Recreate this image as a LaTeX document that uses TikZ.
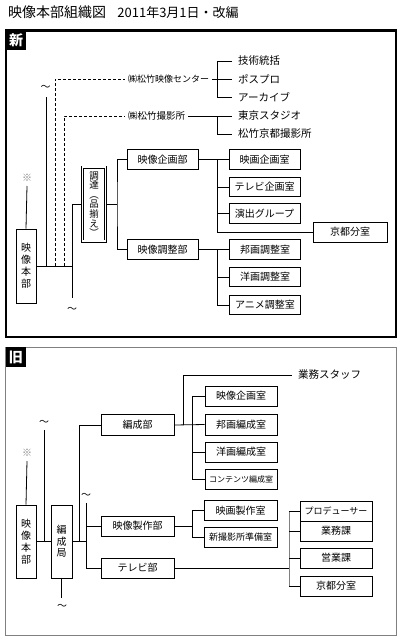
\documentclass[tikz,border=0pt]{standalone}
\usepackage{fontspec}
\setmainfont{Noto Sans CJK JP}
\begin{document}
\begin{tikzpicture}[x=1pt,y=-1pt,
  conn/.style={line width=0.8pt},
  dconn/.style={line width=0.8pt, dash pattern=on 3pt off 2pt},
  box/.style={draw, line width=0.8pt, inner sep=0pt, minimum width=71pt, minimum height=19.5pt, font=\fontsize{10}{12}\selectfont},
  vbox/.style={draw, line width=0.8pt, inner sep=0pt, align=center, font=\fontsize{10}{12}\selectfont},
  lbl/.style={inner sep=0pt, inner xsep=6pt, anchor=west, font=\fontsize{10.5}{12}\selectfont},
  ctr/.style={inner sep=0pt, inner xsep=3pt, anchor=west, font=\fontsize{9}{11}\selectfont},
  wave/.style={inner sep=0pt, font=\fontsize{10}{12}\selectfont},
  kome/.style={inner sep=0pt, text=gray, font=\fontsize{10}{10}\selectfont},
  tag/.style={fill=black, text=white, inner sep=0pt, minimum width=20pt, minimum height=20pt, font=\fontsize{14}{14}\selectfont\bfseries}
]
\useasboundingbox (0,0) rectangle (402,642);

% title
\node[anchor=west, inner sep=0pt, font=\fontsize{14}{15}\selectfont] (title) at (8,12.5) {映像本部組織図\hspace{0.8em}{\fontsize{13}{15}\selectfont 2011年3月1日・改編}};

% frames
\draw[line width=2.4pt] (6.2,30.5) rectangle (396,336.7);
\node[tag] (shin) at (16.2,40.5) {新};
\draw[line width=1pt, gray] (5.5,347) rectangle (396.7,635);
\node[tag] (kyu) at (16,357) {旧};

% ================= NEW =================
\node[lbl] (gijutsu) at (232,61) {技術統括};
\node[lbl] (posupuro) at (232,79) {ポスプロ};
\node[lbl] (akaibu) at (232,97) {アーカイブ};
\node[lbl] (tokyo) at (232,116) {東京スタジオ};
\node[lbl] (kyotosa) at (232,134) {松竹京都撮影所};
\node[ctr] (center) at (125,79) {㈱松竹映像センター};
\node[ctr, font=\fontsize{9.5}{11}\selectfont] (satsu) at (125,116) {㈱松竹撮影所};

\node[box] (kikakubu) at (162.5,159.5) {映像企画部};
\node[box] (eigakikaku) at (264.5,159.5) {映画企画室};
\node[box] (tvkikaku) at (264.5,187) {テレビ企画室};
\node[box] (enshutsu) at (264.5,213.5) {演出グループ};
\node[box, minimum width=74pt, minimum height=20pt] (kyoto1) at (350,232) {京都分室};
\node[box] (chouseibu) at (162.5,249.5) {映像調整部};
\node[box] (hougachousei) at (265,249.5) {邦画調整室};
\node[box] (yougachousei) at (265,277) {洋画調整室};
\node[box] (animechousei) at (265,305) {アニメ調整室};

\node[vbox, double, line width=0.7pt, double distance=1.6pt, outer sep=1.5pt, minimum width=23pt, minimum height=74pt, font=\fontsize{9.5}{9.6}\selectfont] (choutatsu) at (94,204) {調\\達\\︵\\品\\揃\\え\\︶};
\node[vbox, minimum width=20pt, minimum height=74pt] (honbu1) at (26,266) {映\\像\\本\\部};
\node[kome] (k1) at (27,178) {※};
\node[wave] (w1) at (45.5,88) {〜};
\node[wave] (w2) at (72,310) {〜};

\coordinate (jn) at (72,266);
\coordinate (s46) at (46,266);
\coordinate (t46) at (46,97);
\coordinate (d55) at (55,266);
\coordinate (d64) at (64,266);
\coordinate (b72) at (72,298);
\coordinate (c117) at (117,204);
\coordinate (k1b) at (27,186);

\draw[conn] (honbu1.east) -- (jn);
\draw[conn] (k1b) -- (honbu1.north);
\draw[conn] (t46) -- (s46);
\draw[dconn] (d55) |- (center.west);
\draw[dconn] (d64) |- (satsu.west);
\draw[conn] (choutatsu.west) -| (b72);
\draw[conn] (choutatsu.east) -- (c117);
\draw[conn] (kikakubu.west) -| (c117) |- (chouseibu.west);

\draw[conn] (center.east) -- (posupuro.west);
\draw[conn] (gijutsu.west) -- ++(-15,0) |- (akaibu.west);
\draw[conn] (satsu.east) -- (tokyo.west);
\draw[conn] (tokyo.west) ++(-15,0) |- (kyotosa.west);

\draw[conn] (kikakubu.east) -- (eigakikaku.west);
\draw[conn] (eigakikaku.west) ++(-11.5,0) |- (kyoto1.west);
\draw[conn] (tvkikaku.west) -- ++(-11.5,0);
\draw[conn] (enshutsu.west) -- ++(-11.5,0);
\draw[conn] (chouseibu.east) -- (hougachousei.west);
\draw[conn] (hougachousei.west) ++(-12,0) |- (animechousei.west);
\draw[conn] (yougachousei.west) -- ++(-12,0);

% ================= OLD =================
\node[lbl] (gyomustaff) at (292,375) {業務スタッフ};
\node[box, minimum width=73pt, minimum height=21pt] (hensei) at (137.5,425) {編成部};
\node[box, minimum width=72pt, minimum height=20pt] (eizoukikaku2) at (241,396) {映像企画室};
\node[box, minimum width=72pt, minimum height=21pt] (hougahensei) at (241,424.5) {邦画編成室};
\node[box, minimum width=72pt, minimum height=20pt] (yougahensei) at (241,452) {洋画編成室};
\node[box, minimum width=72pt, minimum height=20pt, font=\fontsize{8}{10}\selectfont] (contents) at (241,479) {コンテンツ編成室};

\node[vbox, minimum width=20pt, minimum height=73pt] (honbu2) at (26,541.5) {映\\像\\本\\部};
\node[vbox, minimum width=21pt, minimum height=73pt, font=\fontsize{10}{11.5}\selectfont] (henseikyoku) at (61.5,541.5) {編\\成\\局};
\node[kome] (k2) at (27,453) {※};
\node[wave] (w3) at (44,423) {〜};
\node[wave] (w4) at (86,496) {〜};
\node[wave] (w5) at (62,607) {〜};

\node[box, minimum width=73pt, minimum height=20pt] (seisakubu) at (137.5,526) {映像製作部};
\node[box, minimum width=73pt, minimum height=20pt] (tvbu) at (137.5,568) {テレビ部};
\node[box, minimum width=73pt, minimum height=19.5pt] (eigaseisaku) at (240.5,510.5) {映画製作室};
\node[box, minimum width=73pt, minimum height=19.5pt, font=\fontsize{9}{10}\selectfont] (shinsatsuei) at (240.5,537.5) {新撮影所準備室};
\node[box, minimum width=72pt, minimum height=20pt, font=\fontsize{9}{10}\selectfont] (producer) at (336,511) {プロデューサー};
\node[box, minimum width=72pt, minimum height=20pt] (gyomuka) at (336,531) {業務課};
\node[box, minimum width=72pt, minimum height=20pt] (eigyoka) at (336,558) {営業課};
\node[box, minimum width=72pt, minimum height=20pt] (kyoto2) at (336,586) {京都分室};

\coordinate (jo) at (86,541.5);
\coordinate (j79) at (79,541.5);
\coordinate (t44) at (44,430);
\coordinate (t86) at (86,503);
\coordinate (b62) at (61.5,598);
\coordinate (br3) at (183,425);
\coordinate (br5) at (193,526);
\coordinate (g1) at (289,511);
\coordinate (g2) at (289,586);
\coordinate (g3) at (289,568);
\coordinate (k2b) at (27,461);

\draw[conn] (honbu2.east) -- (henseikyoku.west);
\draw[conn] (henseikyoku.east) -- (jo);
\draw[conn] (t44) -- (t44 |- honbu2.east);
\draw[conn] (k2b) -- (honbu2.north);
\draw[conn] (henseikyoku.south) -- (b62);
\draw[conn] (hensei.west) -| (j79);
\draw[conn] (t86) |- (tvbu.west);
\draw[conn] (seisakubu.west) -- (seisakubu.west -| t86);

\draw[conn] (br3) |- (gyomustaff.west);
\draw[conn] (hensei.east) -- (hougahensei.west);
\draw[conn] (eizoukikaku2.west) -- ++(-12,0) |- (contents.west);
\draw[conn] (yougahensei.west) -- ++(-12,0);

\draw[conn] (seisakubu.east) -- (br5);
\draw[conn] (eigaseisaku.west) -- ++(-11.5,0) |- (shinsatsuei.west);

\draw[conn] (tvbu.east) -- (g3);
\draw[conn, gray] (g1) -- (g2);
\draw[conn] (g1) -- (producer.west);
\draw[conn] (gyomuka.west -| g1) -- (gyomuka.west);
\draw[conn] (eigyoka.west -| g1) -- (eigyoka.west);
\draw[conn] (g2) -- (kyoto2.west);
\end{tikzpicture}
\end{document}
